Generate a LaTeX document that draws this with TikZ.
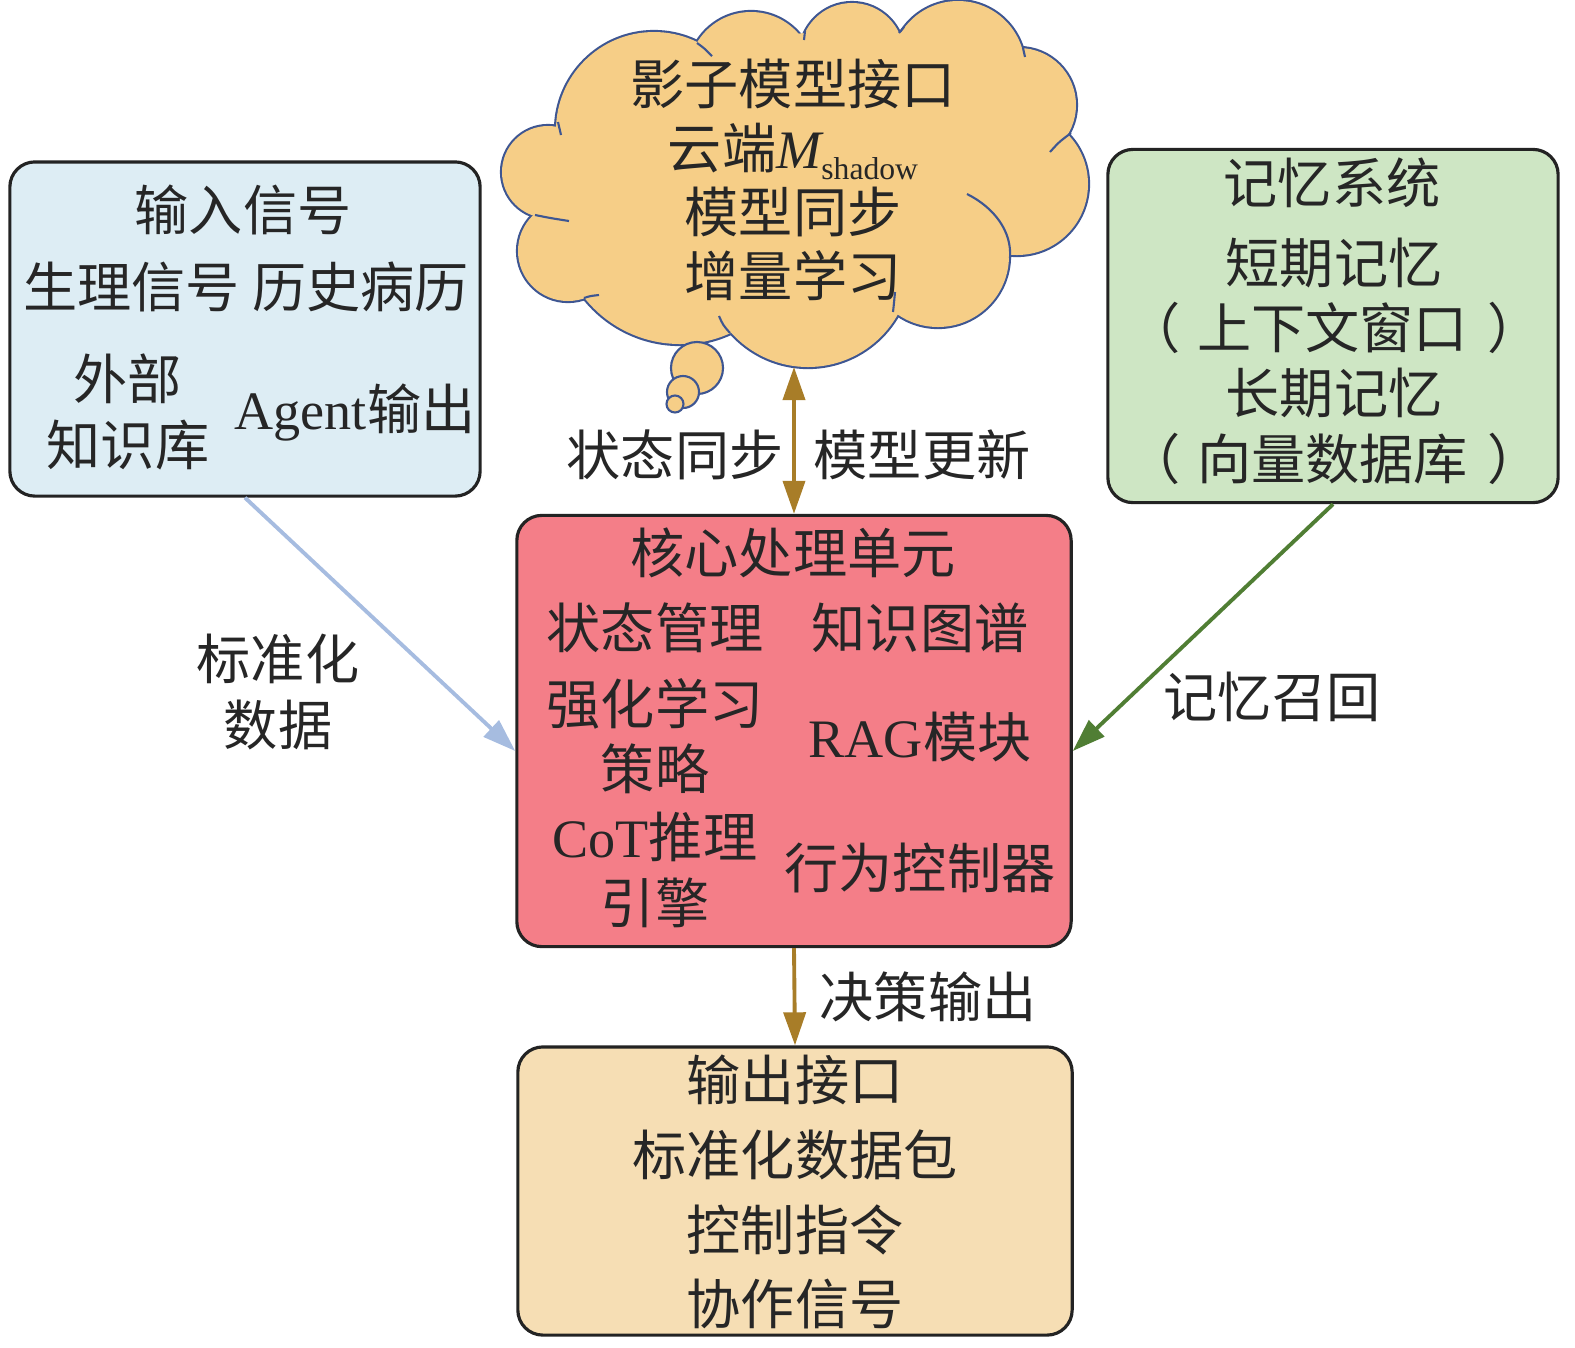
\documentclass[tikz,border=0pt]{standalone}
\usepackage{fontspec}
\setmainfont{Noto Sans CJK SC}
\newfontfamily\lat{Liberation Serif}
\usetikzlibrary{arrows.meta,positioning}

\definecolor{boxline}{RGB}{35,35,35}
\definecolor{inblue}{RGB}{221,237,244}
\definecolor{memgreen}{RGB}{206,230,196}
\definecolor{corered}{RGB}{244,126,136}
\definecolor{outtan}{RGB}{246,222,180}
\definecolor{cloudfill}{RGB}{246,206,135}
\definecolor{cloudline}{RGB}{62,86,146}
\definecolor{arrgold}{RGB}{168,125,40}
\definecolor{arrblue}{RGB}{166,188,224}
\definecolor{arrgreen}{RGB}{80,126,52}

\begin{document}
\begin{tikzpicture}[x=0.01cm, y=-0.01cm,
  box/.style={draw=boxline, line width=0.9pt, rounded corners=2.5mm, inner sep=0pt},
  txt/.style={font=\fontsize{15.4}{18.6}\selectfont, align=center, inner sep=0pt, text=black!85},
  arrow/.style={-{Triangle[length=3.3mm, width=2.2mm]}, line width=1.1pt},
  bubble/.style={fill=cloudfill, draw=cloudline, line width=0.6pt},
]
\useasboundingbox (0,0) rectangle (1575,1347);

% boxes
\node[box, fill=inblue, minimum width=4.70cm, minimum height=3.34cm] (input) at (245,329) {};
\node[box, fill=memgreen, minimum width=4.50cm, minimum height=3.53cm] (memory) at (1333,326) {};
\node[box, fill=corered, minimum width=5.54cm, minimum height=4.31cm] (core) at (794,731) {};
\node[box, fill=outtan, minimum width=5.54cm, minimum height=2.88cm] (output) at (795,1191) {};

% shadow model cloud: puffs outlined, then filled over
\def\puffs{654/130/98, 751/75/63, 852/55/52, 958/68/67, 1019/105/57, 1017/184/71,
  938/256/71, 808/264/103, 680/222/122, 568/251/50, 548/172/46}
\foreach \cx/\cy/\r in \puffs
  \draw[cloudline, line width=1.2pt] (\cx,\cy) circle[radius=\r];
\foreach \cx/\cy/\r in \puffs
  \fill[cloudfill] (\cx,\cy) circle[radius=\r];
\fill[cloudfill] (558,125) -- (697,43) -- (805,33) -- (900,32) -- (1023,50) -- (1067,134)
  -- (1010,255) -- (893,312) -- (730,333) -- (585,298) -- (535,215) -- cycle;
\begin{scope}[cloudline, line width=0.6pt]
  \draw (697,43) .. controls (704,48) .. (712,56);
  \draw (558,122) .. controls (560,128) .. (561,135);
  \draw (805,31) .. controls (804,35) .. (804,40);
  \draw (899,33) .. controls (901,30) .. (904,27);
  \draw (1023,48) .. controls (1024,52) .. (1025,57);
  \draw (1050,152) .. controls (1059,142) .. (1071,133);
  \draw (535,215) .. controls (550,218) .. (569,221);
  \draw (584,298) .. controls (590,296) .. (599,295);
  \draw (719,316) .. controls (723,325) .. (730,333);
  \draw (893,312) .. controls (894,303) .. (895,292);
  \draw (967,194) .. controls (995,208) and (1012,232) .. (1010,258);
\end{scope}
\node[bubble, circle, minimum size=0.52cm, inner sep=0pt] (b1) at (697,368) {};
\node[bubble, circle, minimum size=0.32cm, inner sep=0pt] (b2) at (683,392) {};
\node[bubble, circle, minimum size=0.17cm, inner sep=0pt] (b3) at (675,404) {};
\node[txt, font=\fontsize{15.4}{18.2}\selectfont] (shadow) at (793,180)
  {影子模型接口\\云端{\lat\itshape M}\raisebox{-3pt}[0pt][0pt]{\lat\fontsize{9}{9}\selectfont shadow}\\模型同步\\增量学习};
\coordinate (shadowbot) at (794,367);

% input text
\node[txt] (intitle) at (243,210) {输入信号};
\node[txt] (insig) at (246,287) {生理信号\ 历史病历};
\node[txt] (inkb) at (128,412) {外部\\知识库};
\node[txt] (inagent) at (355,412) {{\lat Agent}输出};

% memory text
\node[txt] (memtitle) at (1332,183) {记忆系统};
\node[txt] (memlist) at (1334,361) {短期记忆\\（\kern0.3em 上下文窗口\kern0.35em）\\长期记忆\\（\kern0.3em 向量数据库\kern0.35em）};

% core text
\node[txt] (coretitle) at (793,553) {核心处理单元};
\node[txt] (state) at (655,628) {状态管理};
\node[txt] (rl) at (655,736) {强化学习\\策略};
\node[txt] (cot) at (655,870) {{\lat CoT}推理\\引擎};
\node[txt] (kg) at (920,628) {知识图谱};
\node[txt] (rag) at (920,737) {{\lat RAG}模块};
\node[txt] (ctrl) at (920,868) {行为控制器};

% output text
\node[txt, font=\fontsize{15.4}{21.3}\selectfont] (outtxt) at (795,1192) {输出接口\\标准化数据包\\控制指令\\协作信号};

% connectors
\draw[arrow, arrgold, {Triangle[length=3.3mm, width=2.2mm]}-{Triangle[length=3.3mm, width=2.2mm]}]
  (shadowbot) -- (core.north);
\node[txt] (syncl) at (675,455) {状态同步};
\node[txt] (syncr) at (922,455) {模型更新};

\draw[arrow, arrblue] (input.south) -- ([yshift=-2mm]core.west);
\node[txt] (stdl) at (278,692) {标准化\\数据};

\draw[arrow, arrgreen] (memory.south) -- ([yshift=-2mm]core.east);
\node[txt] (recall) at (1272,697) {记忆召回};

\draw[arrow, arrgold] (core.south) -- (output.north);
\node[txt] (decide) at (928,997) {决策输出};
\end{tikzpicture}
\end{document}
